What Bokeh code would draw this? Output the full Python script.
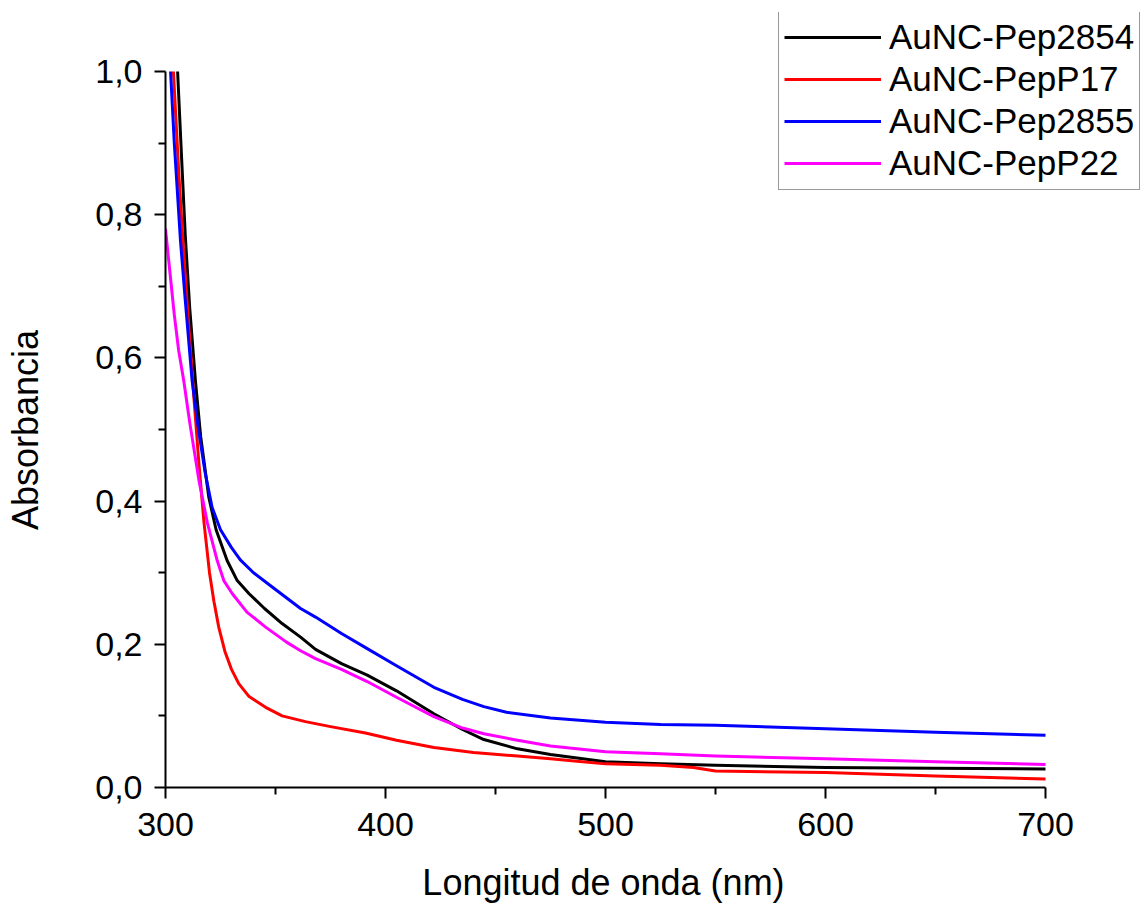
from bokeh.plotting import figure
from bokeh.models import Legend, LegendItem, CustomJSTickFormatter, FixedTicker, Range1d
from bokeh.embed import file_html
from bokeh.resources import INLINE

# AuNC-Pep2854 (black) - visible part starts where it enters the 1.0 limit
x_2854 = [305.5, 307, 309, 311, 313.6, 316, 319.7, 323, 328, 332.6, 337.9, 345, 353,
          361.4, 368.2, 380, 391.7, 405, 422, 435, 444.7, 460, 475, 500, 525, 550, 600, 650, 700]
y_2854 = [1.0, 0.9, 0.77, 0.67, 0.568, 0.49, 0.405, 0.36, 0.317, 0.289, 0.271, 0.25, 0.229,
          0.21, 0.193, 0.173, 0.157, 0.135, 0.103, 0.081, 0.067, 0.054, 0.046, 0.036, 0.033, 0.031, 0.028, 0.027, 0.026]

# AuNC-PepP17 (red)
x_P17 = [303.6, 306, 308, 310, 312.9, 315.2, 317.5, 320, 322, 324.2, 327, 330, 333.3, 338,
         345.5, 353, 363.6, 375, 390.9, 405, 422, 440, 460, 475, 500, 525, 540, 550, 600, 650, 700]
y_P17 = [1.0, 0.86, 0.76, 0.67, 0.545, 0.452, 0.37, 0.30, 0.26, 0.224, 0.19, 0.165, 0.145, 0.127,
         0.112, 0.10, 0.092, 0.085, 0.076, 0.066, 0.056, 0.049, 0.044, 0.04, 0.033, 0.031, 0.028, 0.023, 0.021, 0.016, 0.012]

# AuNC-Pep2855 (blue)
x_2855 = [302.3, 304, 306.8, 309, 312.1, 315, 318, 321.2, 325, 330, 334, 340, 348.5, 361.4,
          368.2, 380, 391.7, 405, 422, 435, 444.7, 455, 475, 500, 525, 550, 600, 650, 700]
y_2855 = [1.0, 0.9, 0.764, 0.68, 0.568, 0.5, 0.44, 0.391, 0.36, 0.335, 0.318, 0.30, 0.28, 0.25,
          0.238, 0.215, 0.194, 0.17, 0.14, 0.123, 0.113, 0.105, 0.097, 0.091, 0.088, 0.087, 0.082, 0.077, 0.073]

# AuNC-PepP22 (magenta)
x_P22 = [300, 302, 304, 306, 308.3, 311, 315.2, 319, 323.5, 326.5, 330.3, 337, 345.5, 355, 361.4,
         368.2, 380, 391.7, 405, 422, 435, 444.7, 460, 475, 500, 525, 550, 600, 650, 700]
y_P22 = [0.78, 0.72, 0.66, 0.61, 0.568, 0.51, 0.429, 0.37, 0.317, 0.289, 0.271, 0.245, 0.224, 0.203, 0.191,
         0.18, 0.165, 0.148, 0.126, 0.099, 0.083, 0.075, 0.066, 0.058, 0.05, 0.047, 0.044, 0.040, 0.036, 0.032]

names = ["AuNC-Pep2854", "AuNC-PepP17", "AuNC-Pep2855", "AuNC-PepP22"]
colors = ["#000000", "#ff0000", "#0000ff", "#ff00ff"]
xs = [x_2854, x_P17, x_2855, x_P22]
ys = [y_2854, y_P17, y_2855, y_P22]

x_ticks = [300, 400, 500, 600, 700]
x_minor = [350, 450, 550, 650]
y_ticks = [0.0, 0.2, 0.4, 0.6, 0.8, 1.0]
y_minor = [0.1, 0.3, 0.5, 0.7, 0.9]

FONT = "Liberation Sans"
NBSP = "\u00a0"

# frame: x 165..1141 px (2.2 px/nm), y 12..787 px (716 px per unit)
p = figure(width=1141, height=905, output_backend="svg", toolbar_location=None,
           x_range=Range1d(300, 300 + 976 / 2.2), y_range=Range1d(0, 1.0 + 59 / 716),
           min_border_left=165, min_border_right=0, min_border_top=12, min_border_bottom=118)
p.outline_line_color = None
p.xgrid.visible = False
p.ygrid.visible = False

items = []
for name, col, xv, yv in zip(names, colors, xs, ys):
    r = p.line(xv, yv, line_color=col, line_width=3, line_join="round")
    items.append(LegendItem(label=name, renderers=[r]))

for ax in (p.xaxis[0], p.yaxis[0]):
    ax.axis_line_width = 2
    ax.major_tick_line_width = 2
    ax.minor_tick_line_width = 2
    ax.major_tick_out = 11
    ax.major_tick_in = 0
    ax.minor_tick_out = 7
    ax.minor_tick_in = 0
    ax.major_label_text_font = FONT
    ax.major_label_text_font_size = "34px"
    ax.major_label_text_color = "#000000"
    ax.axis_label_text_font = FONT
    ax.axis_label_text_font_size = "36px"
    ax.axis_label_text_font_style = "normal"
    ax.axis_label_text_color = "#000000"

p.xaxis.bounds = (300, 700)
p.yaxis.bounds = (0, 1.0)
p.xaxis.ticker = FixedTicker(ticks=x_ticks, minor_ticks=x_minor)
p.yaxis.ticker = FixedTicker(ticks=y_ticks, minor_ticks=y_minor)
p.yaxis.formatter = CustomJSTickFormatter(code="return tick.toFixed(1).replace('.', ',');")
p.xaxis.major_label_standoff = 14
p.yaxis.major_label_standoff = 12

# axis titles; trailing no-break spaces keep them centred on the 300..700 / 0..1 part of the frame
p.xaxis.axis_label = "Longitud de onda (nm)" + NBSP * 10
p.yaxis.axis_label = "Absorbancia" + NBSP * 6
p.xaxis.axis_label_standoff = 23
p.yaxis.axis_label_standoff = 46

legend = Legend(items=items, location=(613, 597), padding=5, spacing=0,
                label_height=42, glyph_height=42, glyph_width=97, label_standoff=8,
                label_text_font=FONT, label_text_font_size="35px", label_text_color="#000000",
                border_line_color="#333333", border_line_width=1,
                background_fill_color="white", background_fill_alpha=1.0)
p.add_layout(legend)

open("out.html", "w").write(file_html(p, INLINE))
